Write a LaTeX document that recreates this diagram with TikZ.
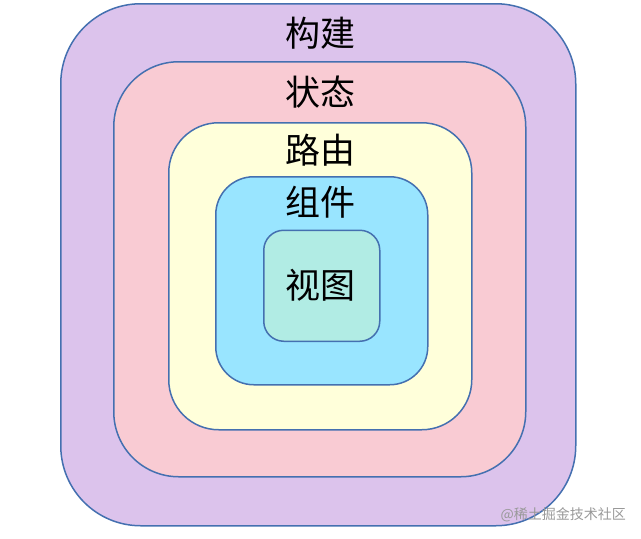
\documentclass[tikz,border=0pt]{standalone}
\usepackage{fontspec}
\newfontfamily\cjk{Noto Sans CJK SC}
\definecolor{edge}{HTML}{4470B0}
\definecolor{cbuild}{HTML}{DCC3EC}
\definecolor{cstate}{HTML}{F9CBD3}
\definecolor{croute}{HTML}{FFFFDA}
\definecolor{ccomp}{HTML}{99E5FF}
\definecolor{cview}{HTML}{B1ECE4}
\tikzset{
  layer/.style={draw=edge, line width=1.5pt, inner sep=0pt, anchor=north west},
  lbl/.style={font=\cjk\fontsize{35}{35}\selectfont, text=black, inner sep=0pt},
}
\begin{document}
\begin{tikzpicture}[x=1pt,y=-1pt]
\useasboundingbox (0,0) rectangle (641,539);
\node[layer, fill=cbuild, rounded corners=80pt, minimum width=515pt, minimum height=522pt] (build) at (60,3) {};
\node[layer, fill=cstate, rounded corners=65pt, minimum width=412pt, minimum height=415pt] (state) at (113,61) {};
\node[layer, fill=croute, rounded corners=50pt, minimum width=303pt, minimum height=307pt] (route) at (168,122) {};
\node[layer, fill=ccomp, rounded corners=38pt, minimum width=212pt, minimum height=208pt] (comp) at (215,176) {};
\node[layer, fill=cview, rounded corners=20pt, minimum width=116pt, minimum height=111pt] (view) at (263,229.5) {};
\node[lbl] (tbuild) at (320.5,33) {构建};
\node[lbl] (tstate) at (320.5,92) {状态};
\node[lbl] (troute) at (320.5,150) {路由};
\node[lbl] (tcomp) at (320.5,202) {组件};
\node[lbl] (tview) at (320.5,285) {视图};
\node[font=\cjk\fontsize{14}{14}\selectfont, text=black!40, inner sep=0pt, anchor=east] (wm) at (626,515) {@稀土掘金技术社区};
\end{tikzpicture}
\end{document}
